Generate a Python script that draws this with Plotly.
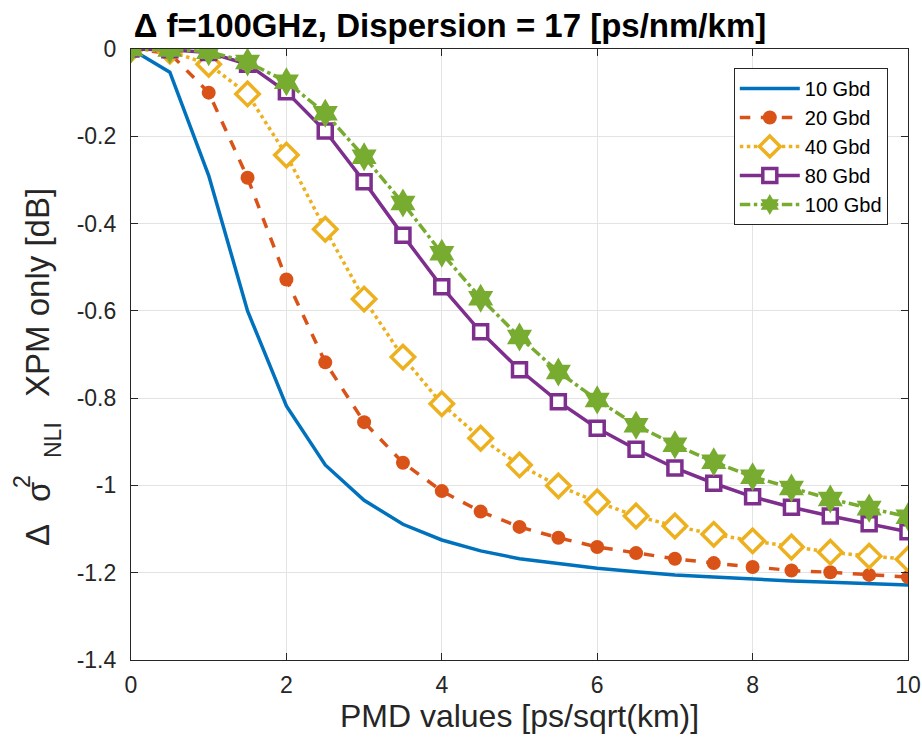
import plotly.graph_objects as go

pmd = [0, 0.5, 1, 1.5, 2, 2.5, 3, 3.5, 4, 4.5, 5, 5.5, 6, 6.5, 7, 7.5, 8, 8.5, 9, 9.5, 10]

g10 = [0, -0.053, -0.29, -0.60, -0.818, -0.953, -1.034, -1.089, -1.125, -1.150, -1.168,
       -1.180, -1.190, -1.198, -1.205, -1.210, -1.215, -1.219, -1.222, -1.225, -1.228]
g20 = [0, -0.010, -0.100, -0.295, -0.528, -0.718, -0.855, -0.948, -1.013, -1.060, -1.095,
       -1.120, -1.141, -1.155, -1.168, -1.178, -1.187, -1.195, -1.199, -1.205, -1.210]
g40 = [0, -0.005, -0.035, -0.103, -0.243, -0.413, -0.573, -0.706, -0.813, -0.892, -0.953,
       -1.001, -1.038, -1.070, -1.093, -1.112, -1.127, -1.141, -1.153, -1.162, -1.169]
g80 = [0, -0.002, -0.008, -0.035, -0.098, -0.188, -0.304, -0.427, -0.545, -0.648, -0.735,
       -0.808, -0.869, -0.917, -0.960, -0.995, -1.026, -1.050, -1.070, -1.088, -1.106]
g100 = [0, -0.001, -0.006, -0.030, -0.075, -0.147, -0.247, -0.353, -0.468, -0.571, -0.660,
        -0.740, -0.804, -0.862, -0.907, -0.946, -0.980, -1.006, -1.031, -1.052, -1.072]

xticks = [0, 2, 4, 6, 8, 10]
yticks = [0, -0.2, -0.4, -0.6, -0.8, -1.0, -1.2, -1.4]
yticklabels = ["0", "-0.2", "-0.4", "-0.6", "-0.8", "-1", "-1.2", "-1.4"]

FONT = "Liberation Sans, Arial, Helvetica"
TXT = "#262626"

fig = go.Figure()
fig.add_trace(go.Scatter(x=pmd, y=g10, name="10 Gbd", mode="lines",
                         line=dict(color="#0072BD", width=3.5)))
fig.add_trace(go.Scatter(x=pmd, y=g20, name="20 Gbd", mode="lines+markers",
                         line=dict(color="#D95319", width=3.5, dash="dash"),
                         marker=dict(symbol="circle", size=14, color="#D95319")))
fig.add_trace(go.Scatter(x=pmd, y=g40, name="40 Gbd", mode="lines+markers",
                         line=dict(color="#EDB120", width=3.5, dash="dot"),
                         marker=dict(symbol="diamond", size=18, color="white",
                                     line=dict(color="#EDB120", width=3.5))))
fig.add_trace(go.Scatter(x=pmd, y=g80, name="80 Gbd", mode="lines+markers",
                         line=dict(color="#7E2F8E", width=3.5),
                         marker=dict(symbol="square", size=14, color="white",
                                     line=dict(color="#7E2F8E", width=3.5))))
fig.add_trace(go.Scatter(x=pmd, y=g100, name="100 Gbd", mode="lines+markers",
                         line=dict(color="#77AC30", width=3.5, dash="dashdot"),
                         marker=dict(symbol="hexagram", size=22, color="#77AC30")))

axis_common = dict(showline=True, linecolor=TXT, linewidth=1.2, mirror="ticks",
                   ticks="inside", ticklen=7, tickcolor=TXT, automargin=False,
                   showgrid=True, gridcolor="#E3E3E3", gridwidth=1.2, zeroline=False,
                   tickfont=dict(family=FONT, size=23, color=TXT))

fig.update_xaxes(range=[0, 10], tickvals=xticks, ticktext=[str(v) for v in xticks],
                 ticklabelstandoff=4,
                 title=dict(text="PMD values [ps/sqrt(km)]", standoff=6,
                            font=dict(family=FONT, size=32, color=TXT)),
                 **axis_common)
fig.update_yaxes(range=[-1.4, 0], tickvals=yticks, ticktext=yticklabels,
                 ticklabelstandoff=9, **axis_common)

# y-axis label built from pieces (stacked super/subscript like the original)
PL, PW, PT, PH = 131, 777, 49, 611
def px(x):
    return (x - PL) / PW
def py(y):
    return (PT + PH - y) / PH

ylab = [
    ("XPM only [dB]", 37, 293, 33),
    ("σ", 38, 492, 33),
    ("Δ", 37, 535, 33),
    ("2", 22, 482, 23),
    ("NLI", 53, 440, 23),
]
for txt, x, y, s in ylab:
    fig.add_annotation(text=txt, x=px(x), y=py(y), xref="paper", yref="paper",
                       xanchor="center", yanchor="middle", textangle=-90,
                       showarrow=False, font=dict(family=FONT, size=s, color=TXT))

fig.update_layout(
    width=922, height=744,
    margin=dict(l=131, r=14, t=49, b=84, autoexpand=False),
    paper_bgcolor="white", plot_bgcolor="white",
    title=dict(text="<b>Δ f=100GHz, Dispersion = 17 [ps/nm/km]</b>",
               x=0.488, xanchor="center", y=0.966, yanchor="middle",
               font=dict(family=FONT, size=33, color="black")),
    legend=dict(x=0.974, y=0.969, xanchor="right", yanchor="top",
                bgcolor="white", bordercolor=TXT, borderwidth=1,
                font=dict(family=FONT, size=20, color="black"),
                itemwidth=60, tracegroupgap=0),
    showlegend=True,
)

fig.write_html("out.html")
